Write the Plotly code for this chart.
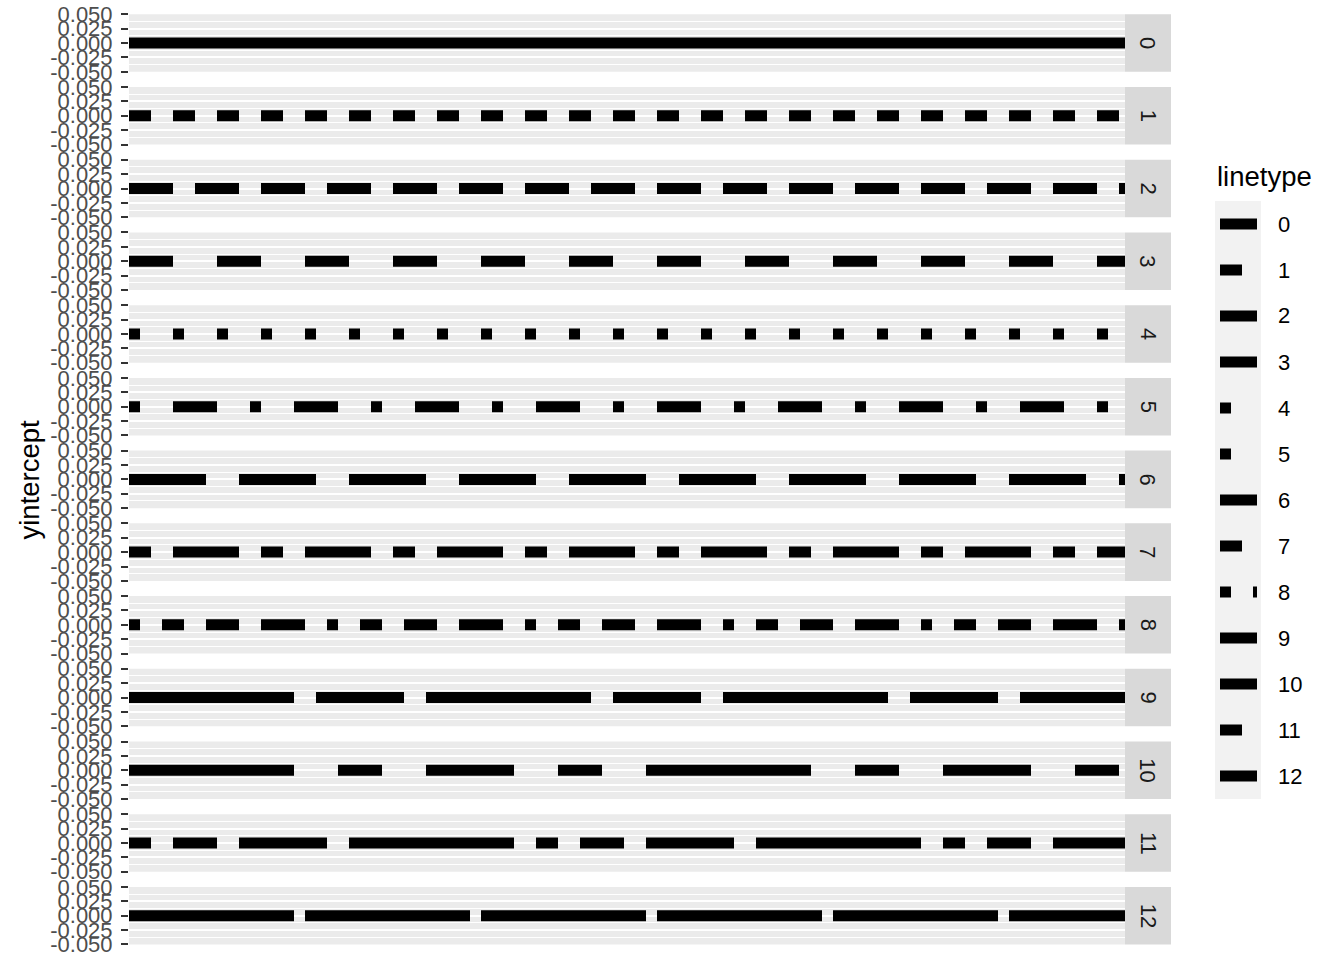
import plotly.graph_objects as go

# ---- data ----
linetypes = ["0", "1", "2", "3", "4", "5", "6", "7", "8", "9", "10", "11", "12"]
yintercept = [0, 0, 0, 0, 0, 0, 0, 0, 0, 0, 0, 0, 0]
hline_x = [0, 1]
y_tickvals = [-0.05, -0.025, 0.0, 0.025, 0.05]
y_ticktext = ["-0.050", "-0.025", "0.000", "0.025", "0.050"]
y_limits = [-0.05, 0.05]

# ---- style: linetype -> R hex dash pattern ----
dash_hex = {"0": "solid", "1": "22", "2": "42", "3": "44", "4": "13", "5": "1343",
            "6": "73", "7": "2262", "8": "12223242", "9": "F282", "10": "F4448444",
            "11": "224282F2", "12": "F1"}
LW = 11
UNIT = 11


def dash_of(lt):
    h = dash_hex[lt]
    if h == "solid":
        return "solid"
    return ",".join(f"{int(c, 16) * UNIT}px" for c in h)


W, H = 1344, 960
FONT = "Liberation Sans, Arial, sans-serif"
PX0, PX1 = 129, 1125          # panel x extent
SX0, SX1 = 1125, 1171         # strip x extent
TOP0, PH, STEP = 14.3, 57.55, 72.72

fig = go.Figure()
layout = dict(width=W, height=H, margin=dict(l=0, r=0, t=0, b=0, autoexpand=False),
              paper_bgcolor="white", plot_bgcolor="rgba(0,0,0,0)",
              showlegend=False, font=dict(family=FONT))
shapes = []
annotations = []

for i, lt in enumerate(linetypes):
    n = i + 1
    xa = "x" if n == 1 else f"x{n}"
    ya = "y" if n == 1 else f"y{n}"
    top = TOP0 + i * STEP
    bot = top + PH
    ydom = [1 - bot / H, 1 - top / H]
    layout["xaxis" if n == 1 else f"xaxis{n}"] = dict(
        domain=[PX0 / W, PX1 / W], range=[0, 1], anchor=ya, automargin=False,
        showgrid=False, zeroline=False, showticklabels=False, ticks="", showline=False,
        fixedrange=True)
    layout["yaxis" if n == 1 else f"yaxis{n}"] = dict(
        domain=ydom, range=y_limits, anchor=xa, automargin=False,
        tickvals=y_tickvals, ticktext=y_ticktext,
        ticks="outside", ticklen=7, tickwidth=1.6, tickcolor="#333333",
        tickfont=dict(family=FONT, size=22, color="#4D4D4D"),
        ticklabelstandoff=4,
        showgrid=True, gridcolor="white", gridwidth=1.6,
        minor=dict(dtick=0.0125, tick0=0, showgrid=True, gridcolor="white", gridwidth=0.8, ticks=""),
        zeroline=False, showline=False, fixedrange=True)
    # panel background
    shapes.append(dict(type="rect", xref=f"{xa} domain", yref=f"{ya} domain",
                       x0=0, x1=1, y0=0, y1=1, fillcolor="#EBEBEB",
                       line=dict(width=0), layer="below"))
    # strip
    shapes.append(dict(type="rect", xref="paper", yref="paper",
                       x0=SX0 / W, x1=SX1 / W, y0=ydom[0], y1=ydom[1],
                       fillcolor="#D9D9D9", line=dict(width=0), layer="below"))
    annotations.append(dict(xref="paper", yref="paper", x=(SX0 + SX1) / 2 / W,
                            y=(ydom[0] + ydom[1]) / 2, text=lt, showarrow=False,
                            textangle=90, font=dict(family=FONT, size=22, color="#1A1A1A"),
                            xanchor="center", yanchor="middle"))
    fig.add_trace(go.Scatter(x=hline_x, y=[yintercept[i]] * len(hline_x), mode="lines",
                             xaxis=xa, yaxis=ya, hoverinfo="skip",
                             line=dict(color="black", width=LW, dash=dash_of(lt))))

# ---- legend (keys drawn on their own axis) ----
K = len(linetypes) + 1
KX0, KX1 = 1215, 1261
KY0, KY1 = 201, 799
kx = f"x{K}"
ky = f"y{K}"
layout[f"xaxis{K}"] = dict(domain=[KX0 / W, KX1 / W], range=[-5 / 37, 1 + 4 / 37], anchor=ky,
                           visible=False, fixedrange=True, automargin=False)
layout[f"yaxis{K}"] = dict(domain=[1 - KY1 / H, 1 - KY0 / H], range=[len(linetypes) - 0.5, -0.5],
                           anchor=kx, visible=False, fixedrange=True, automargin=False)
shapes.append(dict(type="rect", xref=f"{kx} domain", yref=f"{ky} domain", x0=0, x1=1, y0=0, y1=1,
                   fillcolor="#F2F2F2", line=dict(width=0), layer="below"))
key_h = (KY1 - KY0) / len(linetypes)
for i, lt in enumerate(linetypes):
    fig.add_trace(go.Scatter(x=hline_x, y=[i, i], mode="lines", xaxis=kx, yaxis=ky,
                             hoverinfo="skip",
                             line=dict(color="black", width=LW, dash=dash_of(lt))))
    annotations.append(dict(xref="paper", yref="paper", x=1276 / W,
                            y=1 - (KY0 + key_h * (i + 0.5)) / H, text=lt, showarrow=False,
                            xanchor="left", yanchor="middle",
                            font=dict(family=FONT, size=22, color="black")))

annotations.append(dict(xref="paper", yref="paper", x=1215 / W, y=1 - 176 / H, text="linetype",
                        showarrow=False, xanchor="left", yanchor="middle",
                        font=dict(family=FONT, size=27.5, color="black")))
annotations.append(dict(xref="paper", yref="paper", x=29 / W, y=1 - 479.5 / H, text="yintercept",
                        showarrow=False, xanchor="center", yanchor="middle", textangle=-90,
                        font=dict(family=FONT, size=27.5, color="black")))

layout["shapes"] = shapes
layout["annotations"] = annotations
fig.update_layout(**layout)
fig.write_html("out.html")
